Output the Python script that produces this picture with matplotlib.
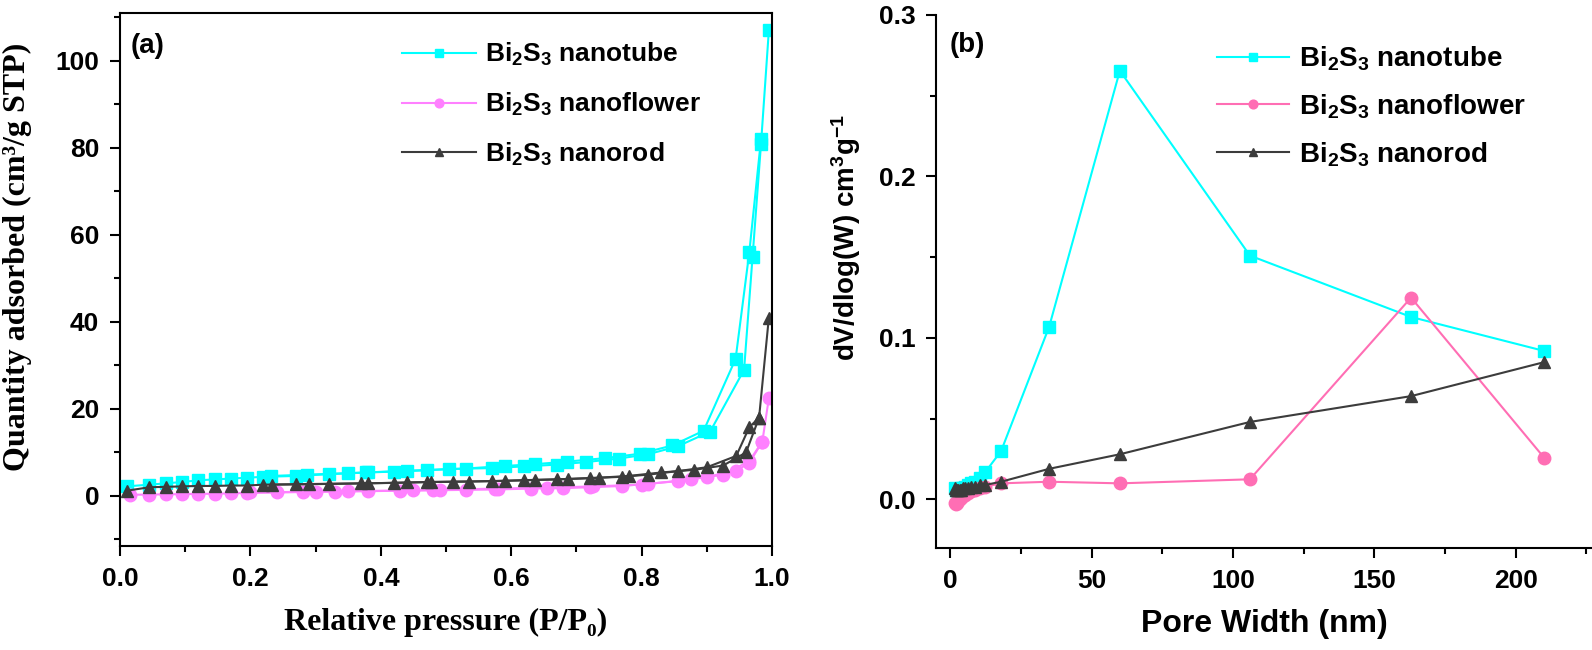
import matplotlib
matplotlib.use("Agg")
import matplotlib.pyplot as plt
from matplotlib.ticker import MultipleLocator, FormatStrFormatter

plt.rcParams["font.family"] = ["Liberation Sans", "DejaVu Sans"]
plt.rcParams["font.weight"] = "bold"
plt.rcParams["mathtext.fontset"] = "custom"
plt.rcParams["mathtext.rm"] = "Liberation Sans:bold"
plt.rcParams["mathtext.bf"] = "Liberation Sans:bold"
plt.rcParams["mathtext.it"] = "Liberation Sans:bold:italic"

# (a) N2 isotherms: adsorption + desorption branches
tube_ads_p = [0.01, 0.045, 0.07, 0.095, 0.12, 0.145, 0.17, 0.195, 0.22, 0.27, 0.32, 0.35, 0.38, 0.42,
              0.47, 0.505, 0.57, 0.62, 0.67, 0.715, 0.765, 0.81, 0.855, 0.905, 0.957, 0.97, 0.983, 0.995]
tube_ads_q = [2.2, 2.6, 2.9, 3.2, 3.6, 3.8, 4.0, 4.2, 4.4, 4.6, 5.0, 5.2, 5.4, 5.6,
              5.9, 6.2, 6.4, 6.8, 7.2, 7.8, 8.6, 9.6, 11.4, 14.8, 29.0, 55.0, 81.0, 107.0]
tube_des_p = [0.983, 0.965, 0.944, 0.895, 0.847, 0.797, 0.744, 0.686, 0.636, 0.59, 0.53, 0.44,
              0.377, 0.287, 0.232]
tube_des_q = [82.0, 56.0, 31.5, 15.0, 11.6, 9.7, 8.7, 7.9, 7.3, 6.9, 6.3, 5.8, 5.4, 4.9, 4.6]

flower_ads_p = [0.015, 0.045, 0.07, 0.095, 0.12, 0.145, 0.17, 0.195, 0.24, 0.28, 0.33, 0.38, 0.43,
                0.48, 0.53, 0.58, 0.63, 0.68, 0.72, 0.77, 0.81, 0.855, 0.9, 0.945, 0.965, 0.985, 0.995]
flower_ads_q = [0.3, 0.3, 0.4, 0.4, 0.5, 0.5, 0.6, 0.7, 0.8, 0.9, 1.0, 1.1, 1.2,
                1.3, 1.4, 1.5, 1.7, 1.8, 2.0, 2.3, 2.8, 3.4, 4.4, 5.8, 7.6, 12.5, 22.5]
flower_des_p = [0.985, 0.965, 0.925, 0.875, 0.8, 0.725, 0.655, 0.575, 0.49, 0.45, 0.35, 0.3, 0.2]
flower_des_q = [12.5, 8.0, 4.9, 3.8, 2.6, 2.2, 1.9, 1.7, 1.4, 1.3, 1.1, 1.0, 0.8]

rod_ads_p = [0.01, 0.045, 0.07, 0.095, 0.12, 0.145, 0.17, 0.195, 0.22, 0.27, 0.32, 0.37, 0.42, 0.47,
             0.51, 0.57, 0.62, 0.67, 0.72, 0.77, 0.81, 0.855, 0.9, 0.945, 0.965, 0.98, 0.995]
rod_ads_q = [1.2, 2.0, 2.1, 2.2, 2.3, 2.3, 2.4, 2.4, 2.6, 2.7, 2.8, 2.9, 3.0, 3.2,
             3.3, 3.4, 3.6, 3.8, 4.1, 4.4, 4.9, 5.7, 6.6, 9.2, 15.8, 18.0, 41.0]
rod_des_p = [0.98, 0.96, 0.925, 0.88, 0.83, 0.78, 0.735, 0.687, 0.636, 0.59, 0.535, 0.477, 0.44,
             0.38, 0.29, 0.233]
rod_des_q = [18.0, 10.0, 7.0, 6.0, 5.4, 4.6, 4.2, 3.9, 3.7, 3.5, 3.3, 3.2, 3.1, 2.9, 2.7, 2.6]

# (b) pore size distribution
pore_w = [1.7, 2.0, 2.4, 2.8, 3.3, 3.9, 4.6, 5.4, 6.4, 7.5, 8.9, 10.5, 12.4, 18, 35, 60, 106, 163, 210]
tube_dv = [0.007, 0.006, 0.006, 0.006, 0.006, 0.007, 0.007, 0.008, 0.009, 0.010, 0.011, 0.013, 0.017,
           0.030, 0.107, 0.2655, 0.151, 0.113, 0.092]
flower_dv = [-0.002, -0.003, -0.002, -0.001, 0.000, 0.001, 0.002, 0.003, 0.004, 0.005, 0.006, 0.007,
             0.008, 0.010, 0.011, 0.010, 0.0125, 0.125, 0.026]
rod_dv = [0.007, 0.006, 0.006, 0.006, 0.006, 0.006, 0.007, 0.007, 0.007, 0.008, 0.008, 0.009, 0.009,
          0.011, 0.019, 0.028, 0.048, 0.064, 0.085]

labels = [r"Bi$_\mathbf{2}$S$_\mathbf{3}$ nanotube", r"Bi$_\mathbf{2}$S$_\mathbf{3}$ nanoflower",
          r"Bi$_\mathbf{2}$S$_\mathbf{3}$ nanorod"]
CYAN = "#00FFFF"
VIOLET = "#FF80FF"
PINK = "#FF6EB4"
GRAY = "#3C3C3C"
TICK_FS = 19
SERIF = ["Liberation Serif", "DejaVu Serif"]

fig = plt.figure(figsize=(15.92, 6.5), dpi=100)
ax1 = fig.add_axes([0.0754, 0.16, 0.4096, 0.82])
ax2 = fig.add_axes([0.588, 0.157, 0.412, 0.82])

lw = 1.5
ax1.plot(tube_ads_p, tube_ads_q, "-s", color=CYAN, lw=lw, ms=8.5, label=labels[0])
ax1.plot(tube_des_p, tube_des_q, "-s", color=CYAN, lw=lw, ms=8.5)
ax1.plot(flower_ads_p, flower_ads_q, "-o", color=VIOLET, lw=lw, ms=9, label=labels[1])
ax1.plot(flower_des_p, flower_des_q, "-o", color=VIOLET, lw=lw, ms=9)
ax1.plot(rod_ads_p, rod_ads_q, "-^", color=GRAY, lw=lw, ms=9, label=labels[2])
ax1.plot(rod_des_p, rod_des_q, "-^", color=GRAY, lw=lw, ms=9)

ax1.set_xlim(0, 1.0)
ax1.set_ylim(-11.5, 111)
ax1.xaxis.set_major_locator(MultipleLocator(0.2))
ax1.xaxis.set_minor_locator(MultipleLocator(0.1))
ax1.xaxis.set_major_formatter(FormatStrFormatter("%.1f"))
ax1.yaxis.set_major_locator(MultipleLocator(20))
ax1.yaxis.set_minor_locator(MultipleLocator(10))
ax1.set_xlabel("Relative pressure (P/P\u2080)", family=SERIF, fontsize=23, fontweight="bold", labelpad=12)
ax1.set_ylabel("Quantity adsorbed (cm\u00b3/g STP)", family=SERIF, fontsize=23, fontweight="bold")
ax1.yaxis.set_label_coords(-0.135, 0.543)
ax1.text(0.016, 0.939, "(a)", transform=ax1.transAxes, fontsize=20, fontweight="bold", va="center")
ax1.legend(loc="upper left", bbox_to_anchor=(0.432, 0.947), frameon=False, fontsize=19,
           handlelength=2.8, handletextpad=0.35, markerscale=0.7, labelspacing=0.85,
           borderpad=0, borderaxespad=0)

ax2.plot(pore_w, tube_dv, "-s", color=CYAN, lw=lw, ms=8.5, label=labels[0])
ax2.plot(pore_w, flower_dv, "-o", color=PINK, lw=lw, ms=9, label=labels[1])
ax2.plot(pore_w, rod_dv, "-^", color=GRAY, lw=lw, ms=9, label=labels[2])
ax2.set_xlim(-5, 227)
ax2.set_ylim(-0.03, 0.3)
ax2.xaxis.set_major_locator(MultipleLocator(50))
ax2.xaxis.set_minor_locator(MultipleLocator(25))
ax2.yaxis.set_major_locator(MultipleLocator(0.1))
ax2.yaxis.set_minor_locator(MultipleLocator(0.05))
ax2.yaxis.set_major_formatter(FormatStrFormatter("%.1f"))
ax2.spines["top"].set_visible(False)
ax2.spines["right"].set_visible(False)
ax2.set_xlabel("Pore Width (nm)", fontsize=23, fontweight="bold", labelpad=12)
ax2.set_ylabel(r"dV/dlog(W) cm$^\mathbf{3}$g$^\mathbf{-1}$", fontsize=20, fontweight="bold")
ax2.yaxis.set_label_coords(-0.111, 0.583)
ax2.text(0.02, 0.943, "(b)", transform=ax2.transAxes, fontsize=20, fontweight="bold", va="center")
ax2.legend(loc="upper left", bbox_to_anchor=(0.428, 0.945), frameon=False, fontsize=20,
           handlelength=2.6, handletextpad=0.35, markerscale=0.7, labelspacing=0.7,
           borderpad=0, borderaxespad=0)

for ax in (ax1, ax2):
    for s in ax.spines.values():
        s.set_linewidth(1.5)
    ax.tick_params(which="major", direction="out", length=7, width=1.5, labelsize=TICK_FS, pad=8)
    ax.tick_params(which="minor", direction="out", length=4, width=1.5)
    for t in ax.get_xticklabels() + ax.get_yticklabels():
        t.set_fontweight("bold")

fig.savefig("out.png", dpi=100)
